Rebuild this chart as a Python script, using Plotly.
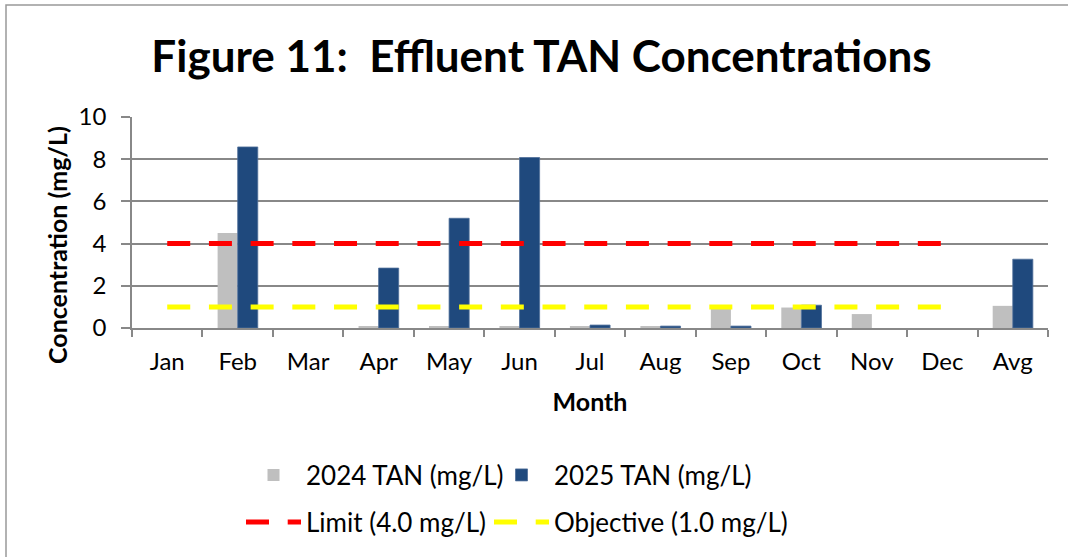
import plotly.graph_objects as go

months = ["Jan", "Feb", "Mar", "Apr", "May", "Jun", "Jul", "Aug", "Sep", "Oct", "Nov", "Dec", "Avg"]
tan_2024 = [None, 4.5, None, 0.08, 0.08, 0.08, 0.08, 0.07, 0.9, 0.97, 0.66, None, 1.05]
tan_2025 = [None, 8.58, None, 2.84, 5.2, 8.08, 0.14, 0.09, 0.09, 1.08, None, None, 3.26]
limit = [4.0] * 12 + [None]
objective = [1.0] * 12 + [None]

FONT = "Lato"
GRAY = "#888888"
BLACK = "#000000"

fig = go.Figure()
fig.add_trace(go.Bar(x=months, y=tan_2024, name="2024 TAN (mg/L)", showlegend=True,
                     marker=dict(color="#BFBFBF", line=dict(width=0)), legend="legend"))
fig.add_trace(go.Bar(x=months, y=tan_2025, name="2025 TAN (mg/L)", showlegend=True,
                     marker=dict(color="#1F497D", line=dict(color="#4F6F99", width=0.8)), legend="legend2"))
fig.add_trace(go.Scatter(x=months, y=limit, name="Limit (4.0 mg/L)", mode="lines", showlegend=True,
                         line=dict(color="#FF0000", width=5, dash="23px,18.7px"), legend="legend3"))
fig.add_trace(go.Scatter(x=months, y=objective, name="Objective (1.0 mg/L)", mode="lines", showlegend=True,
                         line=dict(color="#FFFF00", width=5, dash="23px,18.7px"), legend="legend4"))

legend_common = dict(orientation="v", xanchor="left", yanchor="middle",
                     font=dict(family=FONT, size=26, color=BLACK),
                     bgcolor="rgba(0,0,0,0)", visible=True, itemwidth=55)

def px_x(px):
    return (px - 132) / 916

def px_y(py):
    return (328 - py) / 211

fig.update_layout(
    width=1068, height=557,
    showlegend=True,
    margin=dict(l=132, r=20, t=117, b=229),
    paper_bgcolor="white", plot_bgcolor="white",
    font=dict(family=FONT, color=BLACK),
    title=dict(text="<b>Figure 11:  Effluent TAN Concentrations</b>",
               x=541.5 / 1068, xanchor="center", y=1 - 57 / 557, yanchor="middle",
               font=dict(family=FONT, size=44, color=BLACK)),
    barmode="group", bargap=0.43, bargroupgap=0,
    legend=dict(x=px_x(241), y=px_y(475), **legend_common),
    legend2=dict(x=px_x(489), y=px_y(475), **legend_common),
    legend3=dict(x=px_x(241), y=px_y(522), **legend_common),
    legend4=dict(x=px_x(489), y=px_y(522), **legend_common),
    xaxis=dict(showline=True, linecolor=GRAY, linewidth=1.5,
               ticks="outside", tickson="boundaries", ticklen=7, tickcolor=GRAY, tickwidth=1.5,
               tickfont=dict(family=FONT, size=24, color=BLACK), ticklabelstandoff=11,
               title=dict(text="<b>Month</b>", font=dict(family=FONT, size=25, color=BLACK), standoff=20),
               range=[-0.5, 12.5]),
    yaxis=dict(range=[0, 10], dtick=2, showgrid=True, gridcolor=GRAY, gridwidth=1.5,
               showline=True, linecolor=GRAY, linewidth=1.5, zeroline=False,
               ticks="outside", ticklen=9, tickcolor=GRAY, tickwidth=1.5,
               tickfont=dict(family=FONT, size=24, color=BLACK), ticklabelstandoff=10),
    annotations=[dict(text="<b>Concentration (mg/L)</b>", textangle=-90,
                      xref="paper", yref="paper",
                      x=px_x(57), y=px_y(245),
                      xanchor="center", yanchor="middle", showarrow=False,
                      font=dict(family=FONT, size=25, color=BLACK))],
    shapes=[dict(type="rect", xref="paper", yref="paper",
                 x0=px_x(6), x1=px_x(1080),
                 y0=px_y(580), y1=px_y(5),
                 line=dict(color="#999999", width=1.5), fillcolor="rgba(0,0,0,0)", layer="above")],
)

fig.write_html("out.html", config={"displayModeBar": False},
               post_script="document.body.style.margin='0';document.body.style.overflow='hidden';")
